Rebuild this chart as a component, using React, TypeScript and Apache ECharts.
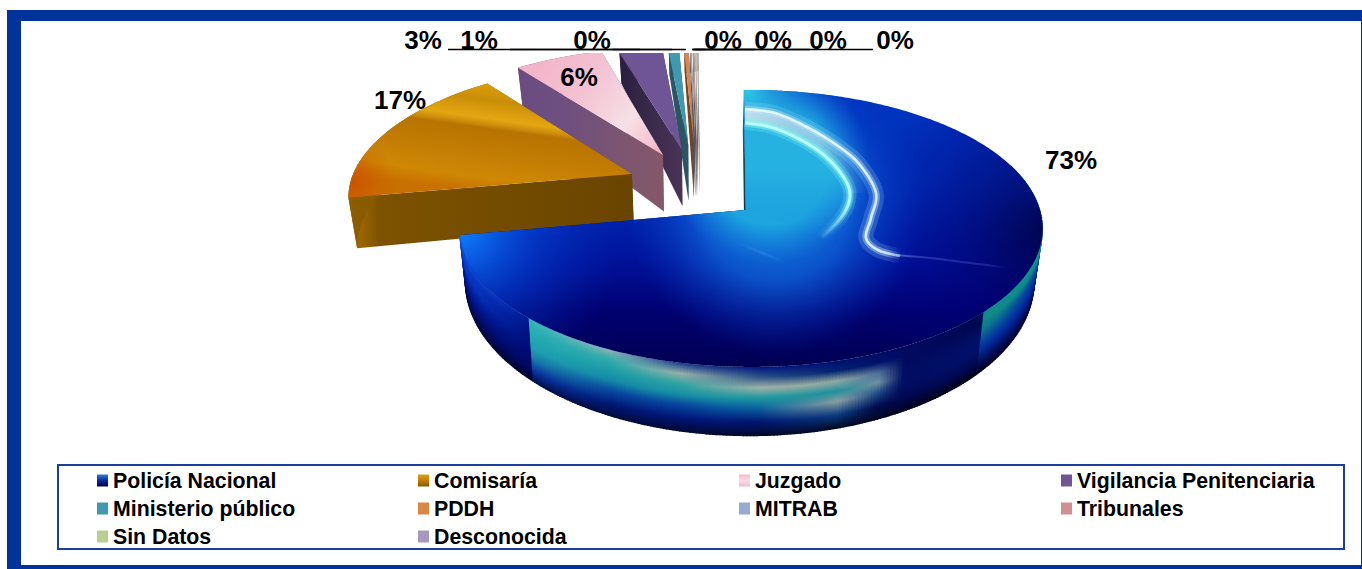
import React, { useEffect, useRef } from "react";
import * as echarts from "echarts";

const categories = ["Policía Nacional", "Comisaría", "Juzgado", "Vigilancia Penitenciaria", "Ministerio público", "PDDH", "MITRAB", "Tribunales", "Sin Datos", "Desconocida"];
const values = [72.55, 17.35, 5.9, 2.9, 0.7, 0.3, 0.1, 0.1, 0.05, 0.05];

const FONT = "Liberation Sans";
const W = 1362, H = 569;
const CX = 751, CY = 210, R = 289, RY = 136, P = 0.1335, DEPTH = 52, VX = 700, TOP_CLIP = 53, ROT = -1.6;

const EXPLODE = [[0, 0], [-0.427, -0.274], [-0.322, -0.427], [-0.254, -0.469], [-0.232, -0.51], [-0.212, -0.53], [-0.207, -0.535], [-0.202, -0.54], [-0.197, -0.545], [-0.192, -0.55]];
const LABEL_POS = [[1071, 160], [400, 100], [579, 77], [423, 40], [479, 40], [592, 40], [723, 40], [773, 40], [828, 40], [895, 40]];
const LEADERS: (number[] | null)[] = [null, null, null, [448, 640], [510, 672], [613, 686], [692, 705], [692, 755], [693, 810], [695, 873]];
const LEGEND_COL = [[0, 4, 8], [1, 5, 9], [2, 6], [3, 7]];
const LEGEND_X = [97, 418, 739, 1061];

const lin = (x: number, y: number, x2: number, y2: number, stops: [number, string][]) =>
  new echarts.graphic.LinearGradient(x, y, x2, y2, stops.map(([offset, color]) => ({ offset, color })), true);
const rad = (x: number, y: number, r: number, stops: [number, string][]) =>
  new echarts.graphic.RadialGradient(x, y, r, stops.map(([offset, color]) => ({ offset, color })), true);
const swatch = (stops: [number, string][]) =>
  new echarts.graphic.LinearGradient(0, 0, 0, 1, stops.map(([offset, color]) => ({ offset, color })));

const flatColors = ["#0a2a9a", "#c47e06", "#f3bccd", "#6f5596", "#3f9ab0", "#dd8644", "#95abd2", "#d09090", "#b8cf94", "#a898c0"];
const wallColors = ["#001070", "#6a4500", "#7c5570", "#35284c", "#2b5563", "#70452a", "#4a5868", "#6a5050", "#5a6a58", "#6a6078"];
const legendColors: any[] = [
  swatch([[0, "#2a80e0"], [0.5, "#0a2a9a"], [1, "#000050"]]),
  swatch([[0, "#e0a010"], [0.5, "#c47e06"], [1, "#8a5500"]]),
  swatch([[0, "#f6b8cc"], [0.5, "#f8dde5"], [1, "#f4b8cc"]]),
  ...flatColors.slice(3),
];

const hex = (c: string) => [1, 3, 5].map((i) => parseInt(c.substr(i, 2), 16));
const mix = (a: string, b: string, t: number) => {
  const A = hex(a), B = hex(b);
  return `rgb(${A.map((v, i) => Math.round(v + (B[i] - v) * t)).join(",")})`;
};

const WALL_V = [0, 0.15, 0.3, 0.45, 0.6, 0.8, 1];
const WALL_KEYS: [number, string[]][] = [
  [455, ["#1060e0", "#0a48d0", "#0838c8", "#0428b8", "#0018a0", "#000e70", "#000840"]],
  [475, ["#0a48d8", "#0834c0", "#0430b8", "#0020a0", "#001488", "#000a60", "#000838"]],
  [527, ["#001c98", "#001488", "#001080", "#000c78", "#000a70", "#000860", "#000028"]],
  [529, ["#30b4b8", "#28aeb4", "#22a8b0", "#20a0b0", "#1a80a8", "#0838a0", "#000a48"]],
  [610, ["#88b4b4", "#30aaac", "#1c9ca8", "#1488a8", "#0848a0", "#001878", "#000a38"]],
  [680, ["#183c88", "#98b0a8", "#30a4a4", "#1890a4", "#0848a0", "#001478", "#000830"]],
  [760, ["#001480", "#2c5488", "#a0b0a8", "#1c98a0", "#0a60a0", "#001470", "#000828"]],
  [840, ["#001070", "#002070", "#90a8a0", "#20909c", "#8aa0a0", "#0a3c80", "#000824"]],
  [880, ["#000c60", "#001068", "#486c98", "#7090a0", "#204c88", "#000c50", "#000820"]],
  [905, ["#000a60", "#000a60", "#000c60", "#000c60", "#000c60", "#000850", "#000020"]],
  [982, ["#000850", "#000850", "#000c60", "#001068", "#001068", "#000850", "#000018"]],
  [984, ["#108a88", "#108a88", "#0a7a8c", "#0a5098", "#0030a0", "#001060", "#000020"]],
  [1045, ["#109a88", "#0a8a88", "#0840a0", "#0030a0", "#0020a0", "#001060", "#000040"]],
];

const wallStops = (x: number): [number, string][] => {
  let k = 0;
  while (k < WALL_KEYS.length - 2 && x > WALL_KEYS[k + 1][0]) k++;
  const [x0, c0] = WALL_KEYS[k], [x1, c1] = WALL_KEYS[k + 1];
  const t = Math.max(0, Math.min(1, (x - x0) / (x1 - x0)));
  return c0.map((c, i) => [WALL_V[i], mix(c, c1[i], t)] as [number, string]);
};

const project = (X: number, Y: number, clip: boolean) => {
  const s = 1 / (1 - P * Y);
  const x = CX + R * X * s;
  const y = CY + RY * Y * s;
  const bx = x + (VX - x) * 0.025;
  const by = y + DEPTH * s * s;
  return { top: [x, clip ? Math.max(y, TOP_CLIP) : y], bottom: [bx, clip ? Math.max(by, TOP_CLIP) : by] };
};

const spline = (p: number[][], n = 12) => {
  const out: number[][] = [];
  for (let i = 0; i < p.length - 1; i++) {
    const a = p[Math.max(i - 1, 0)], b = p[i], c = p[i + 1], d = p[Math.min(i + 2, p.length - 1)];
    for (let j = 0; j < n; j++) {
      const t = j / n, t2 = t * t, t3 = t2 * t;
      out.push([0, 1].map((k) => 0.5 * (2 * b[k] + (c[k] - a[k]) * t + (2 * a[k] - 5 * b[k] + 4 * c[k] - d[k]) * t2 + (3 * b[k] - a[k] - 3 * c[k] + d[k]) * t3)));
    }
  }
  out.push(p[p.length - 1]);
  return out;
};

const poly = (points: number[][], fill: any, extra: any = {}) => ({ type: "polygon", shape: { points }, style: { fill, ...extra } });
const stroke = (points: number[][], color: any, lineWidth: number) => ({
  type: "polyline", shape: { points }, style: { fill: "none", stroke: color, lineWidth, lineJoin: "round" },
});

const OUTER_CURVE = spline([[745, 109], [775, 113], [807, 127], [838, 146], [860, 165], [876, 193], [871, 218], [866, 238], [878, 250], [900, 256]]);
const TAIL_CURVE = spline([[896, 255], [930, 258], [970, 263], [1010, 268]]);
const INNER_CURVE = spline([[745, 123], [770, 127], [795, 137], [820, 152], [840, 172], [850, 193], [843, 215], [822, 238]]);
const FAINT_CURVE = spline([[738, 243], [760, 252], [785, 262]]);

const fadeX = (rgb: string, a: number) => lin(862, 0, 902, 0, [[0, `rgba(${rgb},${a})`], [0.6, `rgba(${rgb},${a})`], [1, `rgba(${rgb},0)`]]);
const fadeY = (rgb: string, a: number) => lin(0, 205, 0, 240, [[0, `rgba(${rgb},${a})`], [1, `rgba(${rgb},0)`]]);

const topTexture = (pts: number[][]) => {
  const layers: any[] = [
    poly(pts, lin(0, 90, 0, 375, [[0, "#0036c0"], [0.35, "#002eb8"], [0.6, "#00129a"], [0.78, "#000070"], [1, "#00004e"]])),
    poly(pts, rad(1050, 235, 190, [[0, "rgba(0,0,60,0.85)"], [0.5, "rgba(0,0,110,0.45)"], [1, "rgba(0,0,150,0)"]])),
    poly(pts, rad(462, 232, 160, [[0, "rgba(15,125,250,1)"], [0.45, "rgba(5,70,215,0.6)"], [1, "rgba(0,40,180,0)"]])),
    poly(pts, rad(775, 205, 150, [[0, "rgba(20,140,225,0.95)"], [0.5, "rgba(15,105,220,0.75)"], [1, "rgba(5,50,190,0)"]])),
    poly(pts, rad(770, 165, 100, [[0, "rgba(30,170,222,1)"], [0.6, "rgba(28,165,222,1)"], [1, "rgba(20,120,220,0)"]])),
    poly(pts, rad(748, 92, 70, [[0, "rgba(45,200,230,1)"], [1, "rgba(20,110,210,0)"]])),
  ];
  const inner = [...INNER_CURVE, [746, 208]];
  layers.push(poly(inner, lin(0, 170, 0, 238, [[0, "rgba(38,178,225,1)"], [1, "rgba(25,150,222,0)"]])));
  const band = [...OUTER_CURVE.slice(0, 61), ...INNER_CURVE.slice(0, 61).reverse()];
  layers.push(poly(band, lin(745, 0, 868, 0, [[0, "rgba(215,228,235,0.9)"], [0.6, "rgba(190,215,230,0.6)"], [1, "rgba(110,170,225,0)"]])));
  layers.push(stroke(OUTER_CURVE, fadeX("170,225,250", 0.2), 15));
  layers.push(stroke(OUTER_CURVE, fadeX("190,235,250", 0.4), 7));
  layers.push(stroke(OUTER_CURVE, lin(866, 0, 905, 0, [[0, "rgba(235,250,255,0.9)"], [0.6, "rgba(225,245,255,0.8)"], [1, "rgba(190,225,250,0.35)"]]), 2.6));
  layers.push(stroke(TAIL_CURVE, lin(896, 0, 1010, 0, [[0, "rgba(190,225,250,0.4)"], [0.25, "rgba(110,140,240,0.3)"], [0.8, "rgba(90,100,230,0.3)"], [1, "rgba(90,100,230,0)"]]), 2));
  layers.push(stroke(INNER_CURVE, fadeY("120,240,240", 0.25), 13));
  layers.push(stroke(INNER_CURVE, fadeY("130,245,240", 0.5), 7));
  layers.push(stroke(INNER_CURVE, fadeY("190,255,250", 0.9), 3));
  layers.push(stroke(FAINT_CURVE, lin(738, 0, 785, 0, [[0, "rgba(90,170,250,0)"], [0.5, "rgba(90,170,250,0.22)"], [1, "rgba(90,170,250,0)"]]), 3));
  return layers;
};

const topFill = (i: number, pts: number[][]): any[] => {
  if (i === 0) return topTexture(pts);
  if (i === 1)
    return [
      poly(pts, lin(490, 85, 475, 192, [[0, "#dc9c0c"], [0.14, "#c98e08"], [0.22, "#d89a0c"], [0.31, "#e4a612"], [0.37, "#c98a0c"], [0.4, "#b87400"], [0.62, "#c27c04"], [0.85, "#cf8804"], [1, "#c87000"]])),
      poly(pts, rad(352, 182, 45, [[0, "rgba(205,70,0,0.7)"], [1, "rgba(205,90,0,0)"]])),
    ];
  if (i === 2)
    return [poly(pts, lin(535, 65, 662, 155, [[0, "#f4b4ca"], [0.35, "#f3c2d2"], [0.7, "#f6e0e6"], [0.9, "#f4c4d2"], [1, "#f1aec4"]]))];
  return [poly(pts, flatColors[i])];
};

const wallFill = (i: number) => {
  if (i === 1) return lin(351, 0, 632, 0, [[0, "#a87000"], [0.1, "#7d5200"], [1, "#6a4500"]]);
  if (i === 2) return lin(520, 0, 665, 0, [[0, "#6a4c80"], [0.3, "#6e4f80"], [0.7, "#7c5570"], [1, "#855868"]]);
  if (i === 3) return lin(622, 0, 682, 0, [[0, "#2b2040"], [1, "#4a3458"]]);
  return wallColors[i];
};

const renderSlice = (i: number) => (_p: any, api: any) => {
  const clip = i !== 0;
  const startPct = api.value(0), val = api.value(1);
  const a0 = startPct * 3.6 + ROT, a1 = (startPct + val) * 3.6 + ROT;
  const [ox, oy] = EXPLODE[i];
  const rim = (deg: number) => {
    const r = (deg * Math.PI) / 180;
    return project(ox + Math.sin(r), oy - Math.cos(r), clip);
  };
  const apex = project(ox + (i === 0 ? -0.018 : 0), oy, clip);
  if (i >= 2) apex.bottom[1] += 10;
  const stepDeg = i === 0 ? 0.6 : 1.5;
  const steps = Math.max(2, Math.ceil((a1 - a0) / stepDeg));
  const angles = Array.from({ length: steps + 1 }, (_, k) => a0 + ((a1 - a0) * k) / steps);
  const arc = angles.map(rim);
  const first = arc[0], last = arc[arc.length - 1];
  const children: any[] = [];
  children.push(poly([apex.top, last.top, last.bottom, apex.bottom], i === 0 ? "#0a3050" : wallFill(i)));
  children.push(poly([apex.top, first.top, first.bottom, apex.bottom], i === 0 ? lin(743, 90, 746, 208, [[0, "#0a7a90"], [1, "#063a50"]]) : wallFill(i)));
  for (let k = 0; k < steps; k++) {
    if (i === 0 && Math.cos((angles[k] * Math.PI) / 180) > 0.35) continue;
    const A = arc[k], B = arc[k + 1];
    const ax = (A.top[0] + B.top[0]) / 2;
    const fill = i === 0 ? lin(A.top[0], A.top[1], A.bottom[0], A.bottom[1], wallStops(ax)) : i === 1 ? "#8a5a00" : wallFill(i);
    const ovX = i === 0 ? (B.top[0] > A.top[0] ? 0.5 : -0.5) : 0;
    children.push(poly([[A.top[0] - ovX, A.top[1]], [B.top[0] + ovX, B.top[1]], [B.bottom[0] + ovX, B.bottom[1]], [A.bottom[0] - ovX, A.bottom[1]]], fill));
  }
  const topPts = [apex.top, ...arc.map((a) => a.top)];
  children.push(...topFill(i, topPts));
  return { type: "group", children };
};

const renderLabel = (p: any, api: any) => {
  const i = p.dataIndex;
  const [x, y] = LABEL_POS[i];
  const children: any[] = [];
  const l = LEADERS[i];
  if (l) children.push({ type: "line", shape: { x1: l[0], y1: 49.5, x2: l[1], y2: 49.5 }, style: { stroke: "#000", lineWidth: 1.5 } });
  children.push({
    type: "text",
    x, y,
    style: { text: `${Math.round(api.value(0))}%`, fontFamily: FONT, fontWeight: "bold", fontSize: 26, fill: "#000", textAlign: "center", textVerticalAlign: "middle" },
  });
  return { type: "group", children };
};

const buildOption = () => {
  let acc = 0;
  const series: any[] = categories.map((name, i) => {
    const start = acc;
    acc += values[i];
    return {
      type: "custom",
      name,
      coordinateSystem: "none",
      z: i === 0 ? 30 : 21 - i,
      silent: true,
      itemStyle: { color: flatColors[i] },
      renderItem: renderSlice(i),
      data: [[start, values[i]]],
    };
  });
  series.push({
    type: "custom",
    name: "etiquetas",
    coordinateSystem: "none",
    z: 40,
    silent: true,
    renderItem: renderLabel,
    data: values.map((v) => [v]),
  });
  const legend = LEGEND_COL.map((col, c) => ({
    orient: "vertical",
    left: LEGEND_X[c],
    top: 469,
    itemWidth: 11,
    itemHeight: 12,
    itemGap: 5,
    icon: "rect",
    selectedMode: false,
    padding: 0,
    textStyle: { fontFamily: FONT, fontWeight: "bold", fontSize: 21.3, color: "#000", height: 23, lineHeight: 23 },
    data: col.map((k) => ({ name: categories[k], itemStyle: { color: legendColors[k] } })),
  }));
  return {
    animation: false,
    backgroundColor: "#fff",
    legend,
    graphic: {
      elements: [
        { type: "rect", z: 0, shape: { x: 7, y: 10, width: W - 7, height: 11 }, style: { fill: "#003399" } },
        { type: "rect", z: 0, shape: { x: 7, y: 10, width: 14, height: H - 10 }, style: { fill: "#003399" } },
        { type: "rect", z: 0, shape: { x: 7, y: 565, width: W - 7, height: 4 }, style: { fill: "#003399" } },
        { type: "rect", z: 0, shape: { x: 1361, y: 10, width: 1, height: H - 10 }, style: { fill: "#003399" } },
        { type: "rect", z: 0, shape: { x: 58, y: 465, width: 1286, height: 84 }, style: { fill: "none", stroke: "#1a3f9c", lineWidth: 2 } },
      ],
    },
    series,
  };
};

export default function App() {
  const ref = useRef<HTMLDivElement>(null);
  useEffect(() => {
    document.body.style.margin = "0";
    const chart = echarts.init(ref.current!, undefined, { renderer: "svg" });
    chart.setOption(buildOption() as any);
    return () => chart.dispose();
  }, []);
  return <div ref={ref} style={{ width: W, height: H }} />;
}
